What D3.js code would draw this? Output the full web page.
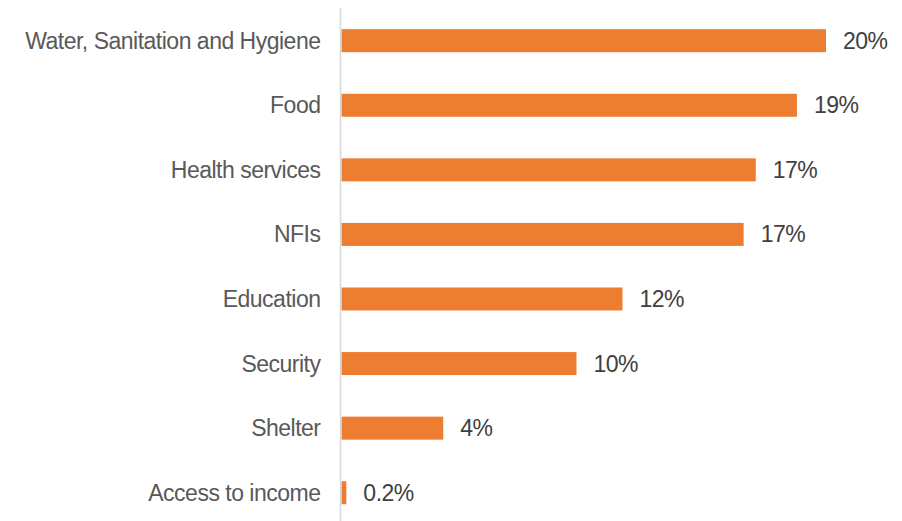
<!DOCTYPE html>
<html>
<head>
<meta charset="utf-8">
<script src="https://cdn.jsdelivr.net/npm/d3@7"></script>
<style>
  html, body { margin: 0; padding: 0; background: #ffffff; }
  svg { display: block; }
</style>
</head>
<body>
<svg id="chart" width="902" height="521"></svg>
<script>
// Reported needs, share of respondents (%)
const categories = [
  "Water, Sanitation and Hygiene",
  "Food",
  "Health services",
  "NFIs",
  "Education",
  "Security",
  "Shelter",
  "Access to income"
];
const values = [20.0, 18.8, 17.1, 16.6, 11.6, 9.7, 4.2, 0.2];

const width = 902, height = 521;
const svg = d3.select("#chart");

const x = d3.scaleLinear().domain([0, 20]).range([341.5, 826]);
const y = d3.scaleBand()
  .domain(categories)
  .range([8.4, 525])
  .paddingInner(0.644)
  .paddingOuter(0.322);

const fmt = v => (v < 1 ? d3.format(".1f")(v) : d3.format(".0f")(v)) + "%";

const data = categories.map((c, i) => ({ category: c, value: values[i] }));

// Bars
svg.append("g")
  .selectAll("rect")
  .data(data)
  .join("rect")
  .attr("x", x(0))
  .attr("y", d => y(d.category))
  .attr("width", d => x(d.value) - x(0))
  .attr("height", y.bandwidth())
  .attr("fill", "#ED7D31");

// Category axis: vertical line, no ticks
const yAxis = d3.axisLeft(y).tickSize(0).tickPadding(20);
const gAxis = svg.append("g")
  .attr("transform", `translate(${x(0) - 1},0)`)
  .call(yAxis);
gAxis.select(".domain")
  .attr("d", `M0,8V${height}`)
  .attr("stroke", "#D9D9D9")
  .attr("stroke-width", 1.6);
gAxis.selectAll("text")
  .attr("font-family", "'Liberation Sans', Arial, sans-serif")
  .attr("font-size", 23)
  .attr("letter-spacing", "-0.5px")
  .attr("fill", "#595959")
  .attr("dy", "0.35em");

// Value labels
svg.append("g")
  .selectAll("text")
  .data(data)
  .join("text")
  .attr("x", d => x(d.value) + 17)
  .attr("y", d => y(d.category) + y.bandwidth() / 2)
  .attr("dy", "0.35em")
  .attr("font-family", "'Liberation Sans', Arial, sans-serif")
  .attr("font-size", 23)
  .attr("letter-spacing", "-0.5px")
  .attr("fill", "#404040")
  .text(d => fmt(d.value));
</script>
</body>
</html>
